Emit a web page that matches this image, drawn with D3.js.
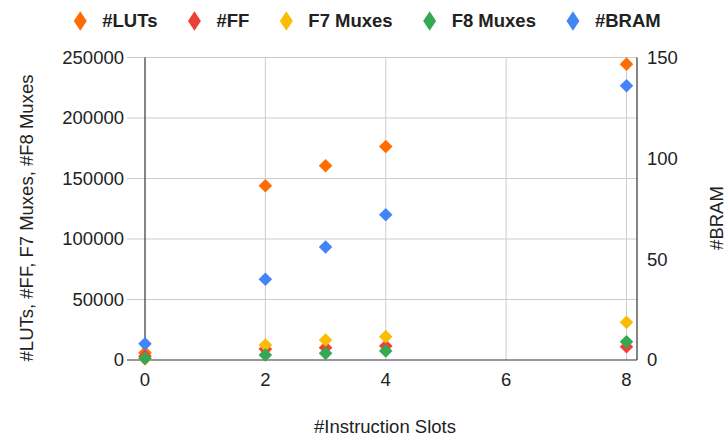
<!DOCTYPE html>
<html>
<head>
<meta charset="utf-8">
<script src="https://cdn.jsdelivr.net/npm/d3@7"></script>
<style>
  body { margin: 0; background: #fff; }
  svg { display: block; font-family: "Liberation Sans", Arial, sans-serif; }
</style>
</head>
<body>
<svg width="726" height="437"></svg>
<script>
// data
var slots = [0, 2, 3, 4, 8];
var luts = [6000, 144000, 160500, 176500, 244500];
var ff = [3000, 9000, 10200, 11600, 11000];
var f7 = [800, 12400, 16500, 19300, 31100];
var f8 = [1200, 4100, 5500, 7400, 15100];
var bram = [8, 40, 56, 72, 136];

var xTicks = [0, 2, 4, 6, 8];
var leftTicks = [0, 50000, 100000, 150000, 200000, 250000];
var rightTicks = [0, 50, 100, 150];

var series = [
    { name: '#LUTs', values: luts, color: '#ff6d01', axis: 'left' },
    { name: '#FF', values: ff, color: '#ea4335', axis: 'left' },
    { name: 'F7 Muxes', values: f7, color: '#fbbc04', axis: 'left' },
    { name: 'F8 Muxes', values: f8, color: '#34a853', axis: 'left' },
    { name: '#BRAM', values: bram, color: '#4285f4', axis: 'right' }
];

var svg = d3.select('svg');
var plotLeft = 145, plotRight = 637, plotTop = 57.5, plotBottom = 360;

var x = d3.scaleLinear().domain([0, 8]).range([plotLeft, 626.5]);
var yL = d3.scaleLinear().domain([0, 250000]).range([plotBottom, plotTop]);
var yR = d3.scaleLinear().domain([0, 150]).range([plotBottom, plotTop]);

// grid
svg.append('g').selectAll('line')
    .data(leftTicks.slice(1))
    .enter().append('line')
    .attr('x1', 127).attr('x2', plotRight)
    .attr('y1', function (d) { return yL(d) }).attr('y2', function (d) { return yL(d) })
    .style('stroke', '#ccc').style('stroke-width', 1);

svg.append('g').selectAll('line')
    .data(xTicks.slice(1))
    .enter().append('line')
    .attr('x1', function (d) { return x(d) }).attr('x2', function (d) { return x(d) })
    .attr('y1', plotTop).attr('y2', plotBottom)
    .style('stroke', '#ccc').style('stroke-width', 1);

// axis lines
svg.append('line').attr('x1', plotLeft).attr('x2', plotLeft).attr('y1', plotTop).attr('y2', plotBottom)
    .style('stroke', '#333').style('stroke-width', 1.2);
svg.append('line').attr('x1', plotRight).attr('x2', plotRight).attr('y1', plotTop).attr('y2', plotBottom)
    .style('stroke', '#333').style('stroke-width', 1.2);
svg.append('line').attr('x1', 127).attr('x2', plotRight).attr('y1', plotBottom).attr('y2', plotBottom)
    .style('stroke', '#333').style('stroke-width', 1.2);

// tick labels
svg.append('g').selectAll('text')
    .data(leftTicks)
    .enter().append('text')
    .attr('x', 124)
    .attr('y', function (d) { return yL(d) })
    .attr('dy', '0.35em')
    .attr('text-anchor', 'end')
    .style('font-size', '18.5px').style('fill', '#222')
    .text(function (d) { return d });

svg.append('g').selectAll('text')
    .data(rightTicks)
    .enter().append('text')
    .attr('x', 647)
    .attr('y', function (d) { return yR(d) })
    .attr('dy', '0.35em')
    .style('font-size', '18.5px').style('fill', '#222')
    .text(function (d) { return d });

svg.append('g').selectAll('text')
    .data(xTicks)
    .enter().append('text')
    .attr('x', function (d) { return x(d) })
    .attr('y', 380)
    .attr('dy', '0.35em')
    .attr('text-anchor', 'middle')
    .style('font-size', '18.5px').style('fill', '#222')
    .text(function (d) { return d });

// axis titles
svg.append('text')
    .attr('transform', 'translate(27,218) rotate(-90)')
    .attr('text-anchor', 'middle').attr('dy', '0.35em')
    .style('font-size', '18.5px').style('fill', '#222')
    .text('#LUTs, #FF, F7 Muxes, #F8 Muxes');

svg.append('text')
    .attr('transform', 'translate(717,218) rotate(-90)')
    .attr('text-anchor', 'middle').attr('dy', '0.35em')
    .style('font-size', '18.5px').style('fill', '#222')
    .text('#BRAM');

svg.append('text')
    .attr('x', 385).attr('y', 427).attr('dy', '0.35em')
    .attr('text-anchor', 'middle')
    .style('font-size', '18.5px').style('fill', '#222')
    .text('#Instruction Slots');

// points
var diamond = d3.symbol().type(d3.symbolSquare).size(92);

series.forEach(function (s) {
    var y = s.axis === 'left' ? yL : yR;
    svg.append('g').selectAll('path')
        .data(slots)
        .enter().append('path')
        .attr('d', diamond)
        .attr('transform', function (d, i) {
            return 'translate(' + x(d) + ',' + y(s.values[i]) + ') rotate(45)';
        })
        .style('fill', s.color);
});

// legend
var legend = svg.append('g');
var lx = 0;
series.forEach(function (s) {
    var item = legend.append('g').attr('transform', 'translate(' + lx + ',0)');
    item.append('path')
        .attr('d', d3.symbol().type(d3.symbolSquare).size(84))
        .attr('transform', 'scale(1,1.5) rotate(45)')
        .style('fill', s.color);
    var t = item.append('text')
        .attr('x', 22).attr('dy', '0.35em')
        .style('font-size', '18.5px').style('font-weight', 'bold').style('fill', '#222')
        .text(s.name);
    lx += 22 + t.node().getComputedTextLength() + 37;
});
var lw = lx - 37 + 7;
legend.attr('transform', 'translate(' + (367 - lw / 2 + 7) + ',21)');
</script>
</body>
</html>
